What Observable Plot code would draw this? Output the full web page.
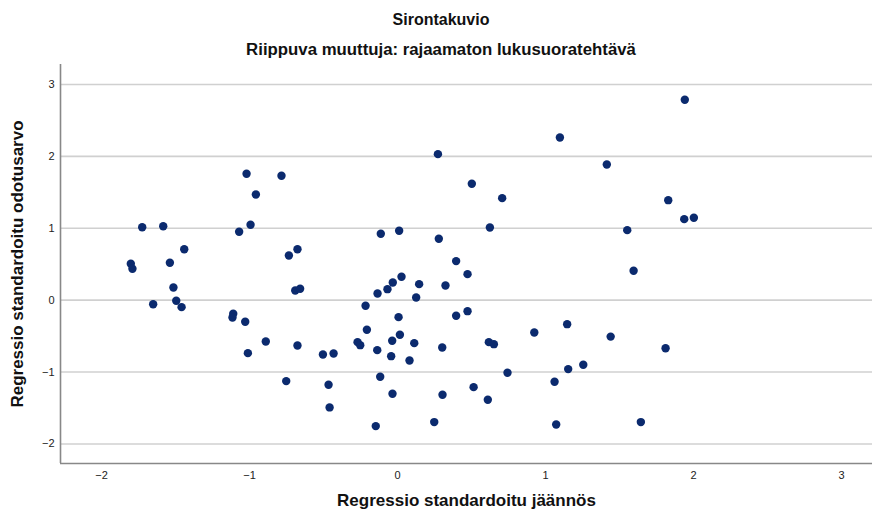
<!DOCTYPE html>
<html>
<head>
<meta charset="utf-8">
<script src="https://cdn.jsdelivr.net/npm/d3@7"></script>
<script src="https://cdn.jsdelivr.net/npm/@observablehq/plot@0.6"></script>
<style>
  html, body { margin: 0; padding: 0; background: #fff; }
  body { width: 872px; height: 515px; overflow: hidden; font-family: "Liberation Sans", Arial, sans-serif; }
  #head { position: relative; width: 872px; height: 64px; }
  #head div { position: absolute; left: 0; width: 882px; text-align: center; font-weight: bold; color: #111; line-height: 20px; }
  #t1 { top: 10px; font-size: 16px; }
  #t2 { top: 40px; font-size: 16.8px; }
  #chart svg { display: block; overflow: visible; }
</style>
</head>
<body>
<div id="head">
  <div id="t1">Sirontakuvio</div>
  <div id="t2">Riippuva muuttuja: rajaamaton lukusuoratehtävä</div>
</div>
<div id="chart"></div>
<script>
// Standardised residual (x) and standardised predicted value (y) per case
const residual = [
  -1.020, -0.784, -0.957, -1.725, -1.583, -1.070, -0.993, -1.441, -0.734, -0.676,
  -1.802, -1.791, -1.538, -1.514, -1.651, -1.495, -1.459, -1.110, -1.115, -1.029,
  -0.890, -1.011, -0.691, -0.658, -0.676, -0.504, -0.432, -0.752, -0.466, -0.459,
   0.273,  1.097,  1.414,  0.502,  0.707, -0.113,  0.011,  0.279,  0.624,  0.396,
   0.473,  0.027, -0.032, -0.068, -0.135,  0.146,  0.324,  0.126, -0.216,  0.007,
   0.396,  0.473, -0.207, -0.270, -0.252, -0.036,  0.016,  0.113, -0.137, -0.043,
   0.081,  0.302,  0.617,  0.651,  0.924,  1.146,  1.440, -0.117,  0.743, -0.034,
   0.304,  0.514,  0.610,  1.061,  1.153,  1.255, -0.147,  0.248,  1.072,  1.941,
   1.829,  1.937,  2.002,  1.552,  1.595,  1.811,  1.644
];
const predicted = [
   1.758,  1.730,  1.470,  1.015,  1.029,  0.951,  1.049,  0.709,  0.622,  0.709,
   0.506,  0.437,  0.520,  0.177, -0.056, -0.008, -0.097, -0.190, -0.241, -0.301,
  -0.574, -0.737,  0.135,  0.158, -0.630, -0.755, -0.741, -1.126, -1.177, -1.492,
   2.031,  2.263,  1.887,  1.619,  1.419,  0.923,  0.965,  0.854,  1.011,  0.543,
   0.362,  0.325,  0.246,  0.153,  0.093,  0.223,  0.204,  0.038, -0.078, -0.236,
  -0.217, -0.153, -0.412, -0.584, -0.626, -0.565, -0.481, -0.598, -0.695, -0.779,
  -0.839, -0.658, -0.584, -0.612, -0.449, -0.334, -0.507, -1.065, -1.010, -1.302,
  -1.316, -1.210, -1.385, -1.135, -0.959, -0.899, -1.752, -1.696, -1.729,  2.787,
   1.391,  1.127,  1.146,  0.974,  0.410, -0.668, -1.696
];
const xTicks = [-2, -1, 0, 1, 2, 3];
const yTicks = [-2, -1, 0, 1, 2, 3];
const xTitle = "Regressio standardoitu jäännös";
const yTitle = "Regressio standardoitu odotusarvo";

const points = residual.map((r, i) => ({x: r, y: predicted[i]}));
const xDomain = [-2.277, 3.209];
const yDomain = [-2.272, 3.278];
const intFormat = d3.format("d");

const chart = Plot.plot({
  width: 872,
  height: 451,
  marginTop: 0,
  marginRight: 0,
  marginBottom: 52,
  marginLeft: 60,
  style: {fontFamily: "'Liberation Sans', Arial, sans-serif", fontSize: "11px", color: "#222", background: "#fff", overflow: "visible"},
  x: {domain: xDomain},
  y: {domain: yDomain},
  marks: [
    Plot.gridY(yTicks, {stroke: "#d0d0d0", strokeOpacity: 1, strokeWidth: 1.6}),
    Plot.axisX(xTicks, {tickSize: 0, tickPadding: 8, label: null, fontSize: 11, tickFormat: intFormat}),
    Plot.axisY(yTicks, {tickSize: 0, tickPadding: 6, label: null, fontSize: 11, tickFormat: intFormat}),
    Plot.ruleX([xDomain[0]], {stroke: "#888", strokeWidth: 1.6}),
    Plot.ruleY([yDomain[0]], {stroke: "#888", strokeWidth: 1.6}),
    Plot.dot(points, {x: "x", y: "y", r: 4.2, fill: "#0b2a6e", stroke: "none"}),
    Plot.text([xTitle], {frameAnchor: "bottom", dy: 42, fontSize: 17, fontWeight: "bold", fill: "#111"}),
    Plot.text([yTitle], {frameAnchor: "left", textAnchor: "middle", dx: -43, rotate: -90, fontSize: 17, fontWeight: "bold", fill: "#111"})
  ]
});
document.getElementById("chart").appendChild(chart);
</script>
</body>
</html>
